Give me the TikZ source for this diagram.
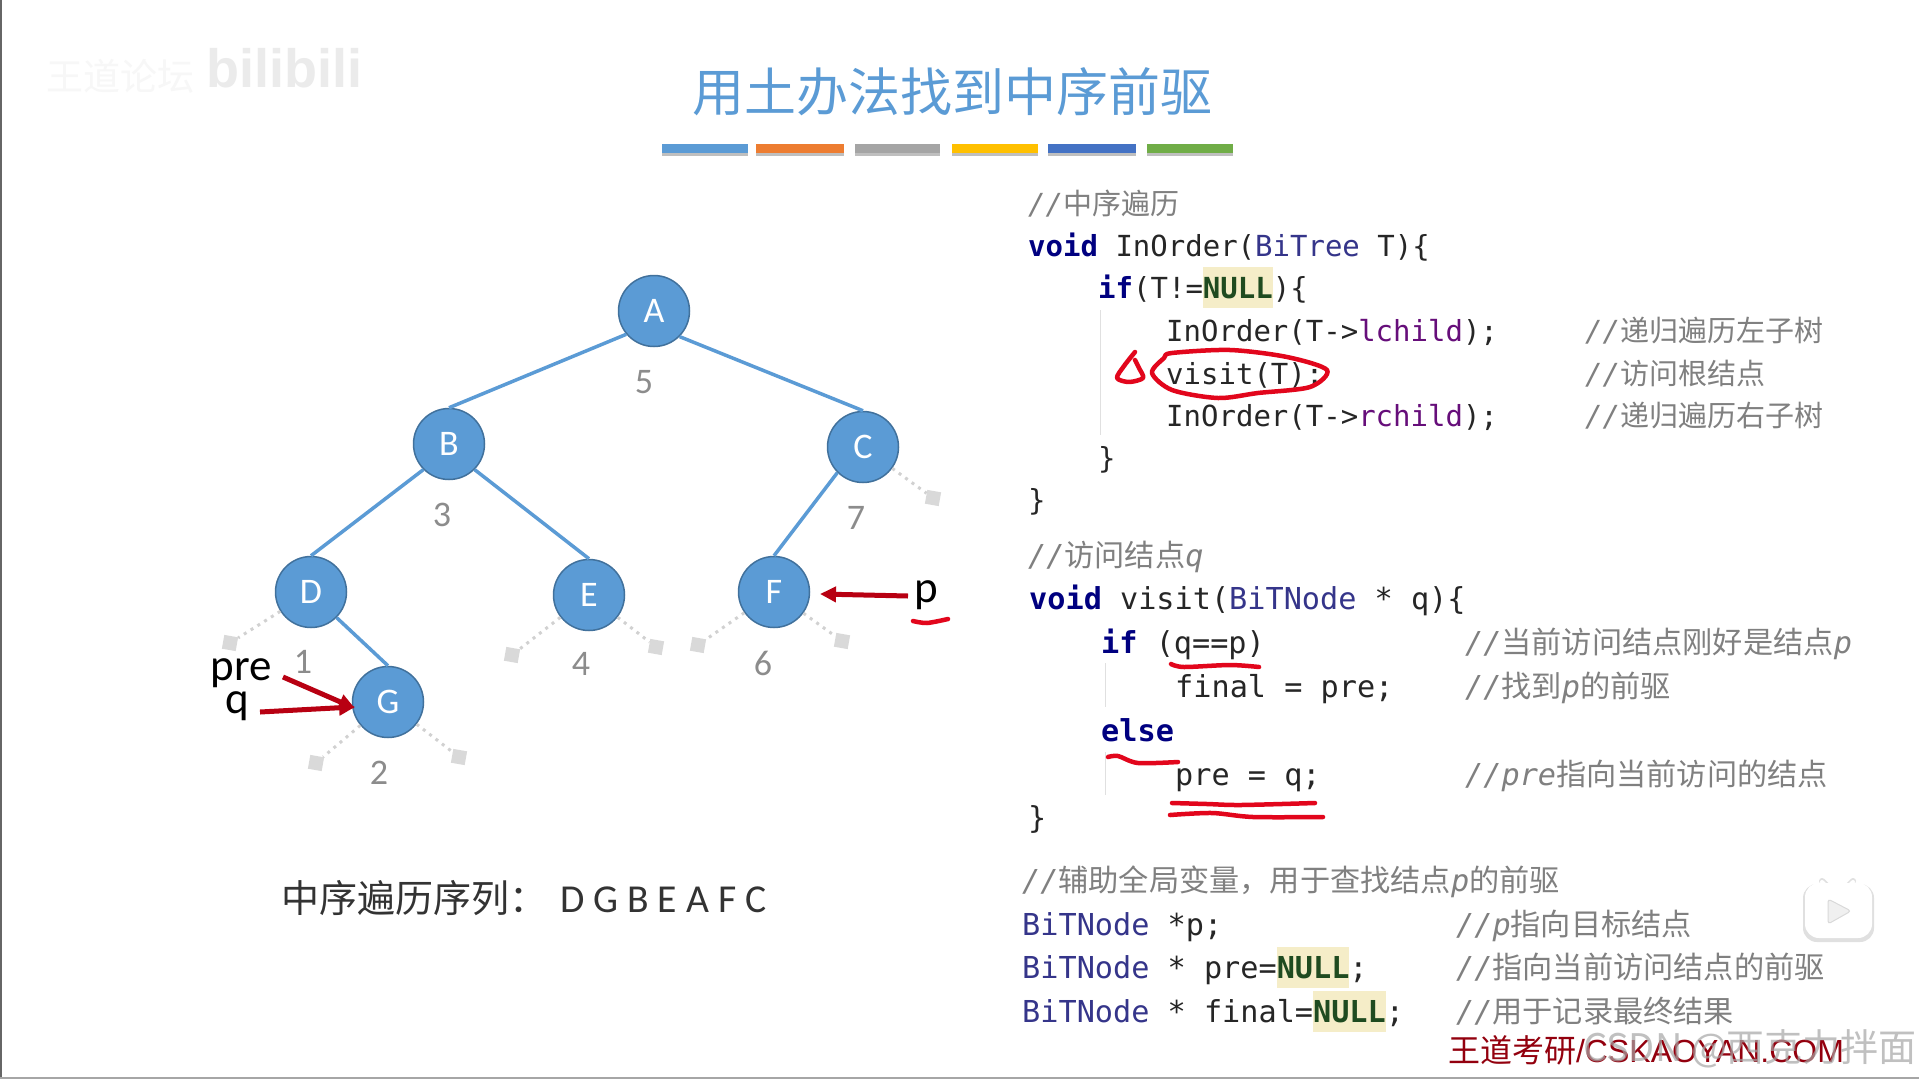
\documentclass[tikz,border=0pt]{standalone}
\usepackage{fontspec}
\setmainfont{Carlito}
\setmonofont{DejaVu Sans Mono}
\newfontfamily\cjk{Noto Sans CJK SC}
\newfontfamily\sans{Liberation Sans}
\usetikzlibrary{arrows.meta}
\definecolor{treeblue}{HTML}{5B9BD5}
\definecolor{treeedge}{HTML}{41719C}
\definecolor{ptrred}{HTML}{B80012}
\definecolor{penred}{HTML}{E2061C}
\definecolor{kwblue}{HTML}{000080}
\definecolor{tyblue}{HTML}{35358A}
\definecolor{fldpurple}{HTML}{660E7A}
\definecolor{nullgreen}{HTML}{1F4B20}
\definecolor{nullbg}{HTML}{F5EDC8}
\definecolor{notegray}{HTML}{808080}
\newcommand{\kw}[1]{\textcolor{kwblue}{\bfseries #1}}
\newcommand{\ty}[1]{\textcolor{tyblue}{#1}}
\newcommand{\fld}[1]{\textcolor{fldpurple}{#1}}
\newcommand{\nullkw}{{\fboxsep=0pt\colorbox{nullbg}{\rule[-10pt]{0pt}{41pt}\textcolor{nullgreen}{\bfseries NULL}}}}
\newcommand{\ob}[1]{{\ttfamily\itshape #1}}
\tikzset{
  treenode/.style={circle,draw=treeedge,line width=1.5pt,fill=treeblue,text=white,minimum size=71pt,inner sep=0pt,font=\fontsize{36}{40}\selectfont},
  treearc/.style={draw=treeblue,line width=3.5pt},
  nilnode/.style={rectangle,fill=black!15,minimum size=14pt,inner sep=0pt,rotate=-10},
  nilarc/.style={draw=black!18,line width=3pt,dash pattern=on 3pt off 5pt},
  idx/.style={text=black!45,inner sep=0pt,font=\fontsize{36}{40}\selectfont},
  ptrlabel/.style={anchor=base,inner sep=0pt,font=\fontsize{45}{50}\selectfont},
  ptr/.style={draw=ptrred,line width=5pt,-{Triangle[length=16pt,width=15pt]}},
  penmark/.style={draw=penred,line width=4.5pt,line cap=round,line join=round},
  codeline/.style={anchor=base west,inner sep=0pt,text=black!85,font=\ttfamily\fontsize{29}{35}\selectfont},
  note/.style={anchor=base west,inner sep=0pt,text=notegray,font=\cjk\fontsize{29}{35}\selectfont},
  widecode/.style={codeline,font=\ttfamily\fontsize{30.2}{35}\selectfont},
  widenote/.style={note,font=\cjk\fontsize{30.2}{35}\selectfont},
  guide/.style={draw=black!12,line width=1pt}
}
\begin{document}
\begin{tikzpicture}[x=1pt,y=-1pt]
  \useasboundingbox (0,0) rectangle (1919,1079);
  \fill[white] (0,0) rectangle (1919,1079);
  \fill[black!60] (0,0) rectangle (2,1079);
  \fill[black!35] (0,1077) rectangle (1919,1079);

  % faint marks at the top left
  \node[inner sep=0pt,text=black!3,font=\cjk\fontsize{37}{40}\selectfont] (mark) at (120,76) {王道论坛};
  \node[inner sep=0pt,text=black!8,font=\sans\bfseries\fontsize{54}{60}\selectfont] (bili) at (284,68) {bilibili};

  % title and coloured bars
  \node[inner sep=0pt,text=treeblue,font=\cjk\fontsize{52}{60}\selectfont] (title) at (952,92) {用土办法找到中序前驱};
  \foreach \xa/\xb/\barcol in {662/748/5B9BD5,756/844/ED7D31,855/940/A5A5A5,952/1038/FFC000,1048/1136/4472C4,1147/1233/70AD47}{
    \definecolor{barcol}{HTML}{\barcol}
    \fill[black!25] (\xa,147) rectangle (\xb,156);
    \fill[barcol] (\xa,144) rectangle (\xb,153);
  }

  % tree
  \node[treenode] (A) at (654,311) {A};
  \node[treenode] (B) at (449,444) {B};
  \node[treenode] (C) at (863,447) {C};
  \node[treenode] (D) at (311,592) {D};
  \node[treenode] (E) at (589,595) {E};
  \node[treenode] (F) at (774,592) {F};
  \node[treenode] (G) at (388,702) {G};
  \draw[treearc] (A.220) -- (B.north);
  \draw[treearc] (A.-45) -- (C.north);
  \draw[treearc] (B.225) -- (D.north);
  \draw[treearc] (B.-45) -- (E.north);
  \draw[treearc] (C.225) -- (F.north);
  \draw[treearc] (D.-45) -- (G.north);

  % empty children
  \foreach \nilname/\up/\sx/\sy in {dl/D/230/643,el/E/512/655,er/E/656/647,gl/G/316/763,gr/G/459/757,fl/F/698/645,fr/F/842/641,cr/C/933/498}{
    \node[nilnode] (\nilname) at (\sx,\sy) {};
    \draw[nilarc] (\up) -- (\nilname);
  }

  % visit order
  \foreach \lab/\sx/\sy in {5/644/382,3/442/515,7/856/518,1/303/662,4/581/664,6/763/663,2/379/773}{
    \node[idx] (n\lab) at (\sx,\sy) {\lab};
  }

  % pointers
  \node[ptrlabel] (pre) at (241,680) {pre};
  \node[ptrlabel] (q) at (237,713) {q};
  \node[ptrlabel] (p) at (926,602) {p};
  \coordinate (pretail) at (283,677);
  \coordinate (qtail) at (260,712);
  \coordinate (ptail) at (908,596);
  \coordinate (ptip) at (820,594);
  \draw[ptr,shorten >=-3pt] (pretail) -- (G.188);
  \draw[ptr,shorten >=-3pt] (qtail) -- (G.188);
  \draw[ptr] (ptail) -- (ptip);

  % sequence
  \node[anchor=base west,inner sep=0pt,font=\cjk\fontsize{38}{44}\selectfont,text=black!80] (seq) at (281,912) {中序遍历序列：};
  \node[anchor=base west,inner sep=0pt,font=\fontsize{39.6}{44}\selectfont,text=black!80] (seqval) at (560,912) {D G B E A F C};

  % InOrder
  \node[note] (c1) at (1028,214) {\ob{//}中序遍历};
  \node[codeline] (c2) at (1028,256) {\kw{void} InOrder(\ty{BiTree} T)\{};
  \node[codeline] (c3) at (1098,298) {\kw{if}(T!=\nullkw)\{};
  \node[codeline] (c4) at (1166,341) {InOrder(T->\fld{lchild});};
  \node[note] (c4n) at (1585,341) {\ob{//}递归遍历左子树};
  \node[codeline] (c5) at (1166,384) {visit(T);};
  \node[note] (c5n) at (1585,384) {\ob{//}访问根结点};
  \node[codeline] (c6) at (1166,426) {InOrder(T->\fld{rchild});};
  \node[note] (c6n) at (1585,426) {\ob{//}递归遍历右子树};
  \node[codeline] (c7) at (1098,468) {\}};
  \node[codeline] (c8) at (1028,510) {\}};
  \draw[guide] (1100,310) -- (1100,435);

  % visit
  \node[widenote] (v1) at (1028,566) {\ob{//}访问结点\ob{q}};
  \node[widecode] (v2) at (1029,609) {\kw{void} visit(\ty{BiTNode} * q)\{};
  \node[widecode] (v3) at (1101,653) {\kw{if} (q==p)};
  \node[widenote] (v3n) at (1465,653) {\ob{//}当前访问结点刚好是结点\ob{p}};
  \node[widecode] (v4) at (1175,697) {final = pre;};
  \node[widenote] (v4n) at (1465,697) {\ob{//}找到\ob{p}的前驱};
  \node[widecode] (v5) at (1101,741) {\kw{else}};
  \node[widecode] (v6) at (1175,785) {pre = q;};
  \node[widenote] (v6n) at (1465,785) {\ob{//pre}指向当前访问的结点};
  \node[widecode] (v7) at (1028,828) {\}};
  \draw[guide] (1105,663) -- (1105,707);
  \draw[guide] (1105,752) -- (1105,795);

  % globals
  \node[widenote] (g1) at (1022,891) {\ob{//}辅助全局变量，用于查找结点\ob{p}的前驱};
  \node[widecode] (g2) at (1022,935) {\ty{BiTNode} *p;};
  \node[widenote] (g2n) at (1456,935) {\ob{//p}指向目标结点};
  \node[widecode] (g3) at (1022,978) {\ty{BiTNode} * pre=\nullkw;};
  \node[widenote] (g3n) at (1456,978) {\ob{//}指向当前访问结点的前驱};
  \node[widecode] (g4) at (1022,1022) {\ty{BiTNode} * final=\nullkw;};
  \node[widenote] (g4n) at (1456,1022) {\ob{//}用于记录最终结果};

  % pen marks
  \draw[penmark] plot[smooth cycle] coordinates {(1172,353) (1230,350) (1287,357) (1327,370) (1310,387) (1258,393) (1218,398) (1172,390) (1152,373) (1164,358)};
  \draw[penmark] plot[smooth] coordinates {(1135,352) (1124,366) (1117,378) (1129,382) (1143,378) (1139,368) (1135,360)};
  \draw[penmark] plot[smooth] coordinates {(1171,664) (1184,667) (1230,665) (1259,667)};
  \draw[penmark] plot[smooth] coordinates {(1108,757) (1118,756) (1138,763) (1178,762)};
  \draw[penmark] plot[smooth] coordinates {(1172,803) (1207,804) (1241,805) (1315,803)};
  \draw[penmark] plot[smooth] coordinates {(1170,815) (1212,813) (1253,817) (1323,817)};
  \draw[penmark] plot[smooth] coordinates {(913,621) (927,623) (948,619)};

  % player badge
  \fill[black!12,rounded corners=14pt] (1803,884) rectangle (1874,942);
  \draw[black!12,line width=6pt,line cap=round] (1822,881) -- (1830,889) (1853,881) -- (1845,889);
  \draw[white,line width=4pt,line cap=round] (1822,882) -- (1830,890) (1853,882) -- (1845,890);
  \fill[white,rounded corners=14pt] (1805,883) rectangle (1872,938);
  \fill[black!6,draw=black!15,line width=1pt,rounded corners=3pt] (1828,899) -- (1851,911) -- (1828,924) -- cycle;

  % footer
  \node[inner sep=0pt,text=ptrred!80!black,font=\sans\fontsize{32}{36}\selectfont] (footer) at (1646,1050) {{\cjk 王道考研}/CSKAOYAN.COM};
  \node[inner sep=0pt,text=black!35,opacity=.7,font=\cjk\fontsize{38}{42}\selectfont] (csdn) at (1750,1049) {CSDN @西克力拌面};
\end{tikzpicture}
\end{document}
